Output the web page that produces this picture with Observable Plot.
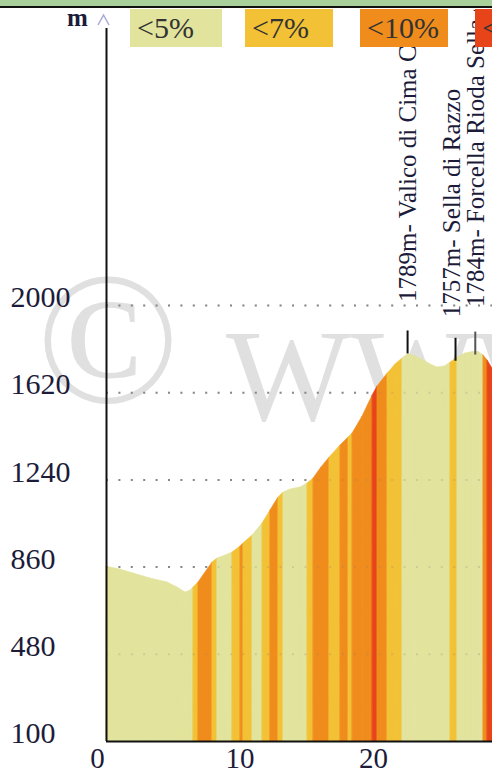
<!DOCTYPE html>
<html><head><meta charset="utf-8">
<script src="https://cdn.jsdelivr.net/npm/d3@7"></script>
<script src="https://cdn.jsdelivr.net/npm/@observablehq/plot@0.6"></script>
<style>
html,body{margin:0;padding:0;background:#fff;}
body{width:492px;height:769px;overflow:hidden;position:relative;font-family:"Liberation Serif",serif;}
#wm{position:absolute;left:0;top:0;z-index:0;}
#chart{position:absolute;left:0;top:0;z-index:1;}
#header{position:absolute;left:0;top:0;width:492px;height:6px;background:#a9cf9a;border-bottom:2px solid #111;z-index:4;}
#cover{position:absolute;left:0;top:8px;width:492px;height:2px;background:#fff;z-index:3;}
.lg{position:absolute;top:9px;height:38px;z-index:4;font-size:30px;color:#333;box-sizing:border-box;padding-left:7px;line-height:38px;white-space:nowrap;overflow:hidden;}
#unit{position:absolute;left:67px;top:4px;z-index:4;font-size:25px;font-weight:bold;color:#1c1c3a;}
#arrow{position:absolute;left:0;top:0;z-index:4;}
</style></head>
<body>
<svg id="wm" width="492" height="769">
  <text x="108" y="402" text-anchor="middle" font-family="Liberation Serif" font-size="188" fill="#e0e0e0">©</text>
  <text x="226" y="420" font-family="Liberation Serif" font-size="132" fill="#e0e0e0">WWW</text>
</svg>
<div id="chart"></div>
<div id="header"></div>
<div id="cover"></div>
<div id="unit">m</div>
<svg id="arrow" width="120" height="30"><polyline points="98,25 103.5,15 109,25" fill="none" stroke="#a9aad6" stroke-width="1.5"/></svg>
<div id="legend"></div>
<script>
// distance (km) and elevation (m) along the profile
const km   = [0, 1.05, 2.02, 3.30, 4.57, 5.32, 5.92, 6.29, 6.52, 6.89, 7.94, 8.31, 8.91, 9.44, 10.04, 10.26, 10.94, 11.69, 12.28, 12.88, 13.26, 13.78, 14.53, 15.06, 15.51, 16.10, 16.70, 17.53, 18.13, 18.43, 19.18, 19.93, 20.30, 21.05, 21.65, 22.17, 22.60, 23.15, 23.67, 24.27, 24.79, 25.32, 25.77, 26.29, 26.89, 27.45, 27.87, 28.24, 28.54, 28.91];
const elev = [862, 849, 832, 810, 793, 771, 749, 758, 771, 793, 880, 897, 910, 924, 950, 963, 998, 1050, 1107, 1163, 1185, 1198, 1207, 1224, 1246, 1294, 1337, 1390, 1425, 1442, 1516, 1608, 1647, 1703, 1743, 1769, 1789, 1778, 1764, 1743, 1730, 1734, 1751, 1773, 1791, 1797, 1797, 1782, 1760, 1725];
// gradient class of each segment (between consecutive points)
const grade = ["<5%","<5%","<5%","<5%","<5%","<5%","<5%","<5%","<7%","<10%","<7%","<5%","<5%","<7%","<10%","<7%","<5%","<7%","<10%","<7%","<5%","<5%","<5%","<7%","<10%","<10%","<7%","<10%","<7%","<10%","<10%","<15%","<10%","<7%","<7%","<5%","<5%","<5%","<5%","<5%","<5%","<5%","<7%","<5%","<5%","<5%","<5%","<10%","<15%"];
const gradeClasses = ["<5%","<7%","<10%","<15%"];
const gradeColors  = ["#e2e39c","#f2c136","#f08c1c","#e8441a"];
// summits
const peakKm   = [22.55, 26.14, 27.62];
const peakElev = [1789, 1757, 1784];
const peakName = ["Valico di Cima Ciampigotto", "Sella di Razzo", "Forcella Rioda Sella di Rioda"];
// axes
const yTicks = [100, 480, 860, 1240, 1620, 2000];
const xTicks = [0, 10, 20, 30];

const segs = [];
grade.forEach((g, i) => {
  segs.push({seg: i, g, km: km[i], elev: elev[i]});
  segs.push({seg: i, g, km: km[i + 1], elev: elev[i + 1]});
});
const peakLift = [-52, -44, -48];
const peakShift = [0, -4, 1];
const peaks = peakKm.map((k, i) => ({km: k, elev: peakElev[i], name: peakName[i], i}));

const serif = "Liberation Serif";
const plot = Plot.plot({
  width: 492, height: 769,
  marginLeft: 106, marginRight: 0, marginTop: 28, marginBottom: 28,
  style: {background: "transparent", overflow: "visible"},
  x: {domain: [0, 28.91], axis: null},
  y: {domain: [100, 3207], axis: null},
  color: {domain: gradeClasses, range: gradeColors},
  marks: [
    Plot.ruleY(yTicks.filter(t => t > 100), {stroke: "#8c8c8c", strokeWidth: 2, strokeDasharray: "2,10.4"}),
    Plot.areaY(segs, {x: "km", y1: 100, y2: "elev", z: "seg", fill: "g", stroke: "g", strokeWidth: 0.6, curve: "linear"}),
    Plot.ruleY(yTicks.filter(t => t > 100), {stroke: "#777", strokeOpacity: 0.2, strokeWidth: 2, strokeDasharray: "2,10.4"}),
    Plot.ruleX(peaks, {x: "km", y1: "elev", y2: d => d.elev + 100, stroke: d => d.i === 2 ? "#555" : "#111", strokeWidth: 2}),
    ...peaks.map(p => Plot.text([p], {x: "km", y: "elev", text: d => `${d.elev}m- ${d.name}`, rotate: -90, textAnchor: "start", dy: peakLift[p.i], dx: peakShift[p.i], fontSize: 25, fontFamily: serif, fill: "#1c1c3a"})),
    Plot.ruleX([0], {stroke: "#111", strokeWidth: 2}),
    Plot.ruleY([100], {stroke: "#111", strokeWidth: 2}),
    Plot.axisY({ticks: yTicks, tickFormat: d => String(d), tickSize: 0, tickPadding: 0, textAnchor: "start", dx: -96, dy: -8, fontSize: 30, fontFamily: serif, fill: "#1c1c3a", label: null}),
    Plot.axisX({ticks: xTicks.filter(t => t > 0), tickFormat: d => String(d), tickSize: 0, tickPadding: 6, fontSize: 29, fontFamily: serif, fill: "#1c1c3a", label: null}),
    Plot.axisX({ticks: xTicks.filter(t => t === 0), tickFormat: d => String(d), tickSize: 0, tickPadding: 6, dx: -9, fontSize: 29, fontFamily: serif, fill: "#1c1c3a", label: null})
  ]
});
document.getElementById("chart").appendChild(plot);

// legend
const lgLeft = [130, 245, 360, 475];
const lg = document.getElementById("legend");
gradeClasses.forEach((c, i) => {
  const d = document.createElement("div");
  d.className = "lg";
  d.style.left = lgLeft[i] + "px";
  d.style.width = (i === 3 ? 60 : (i === 0 ? 92 : 88)) + "px";
  d.style.background = gradeColors[i];
  d.textContent = c;
  lg.appendChild(d);
});
</script>
</body></html>
